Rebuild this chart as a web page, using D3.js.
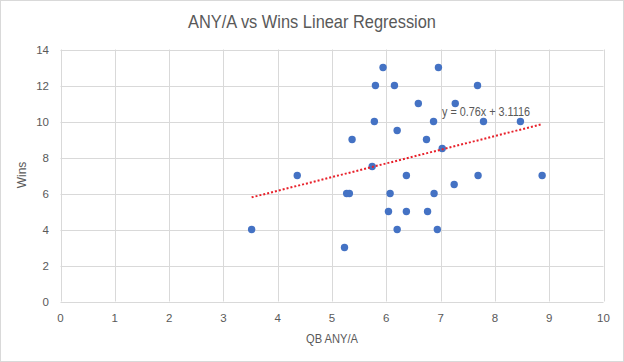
<!DOCTYPE html>
<html>
<head>
<meta charset="utf-8">
<script src="https://cdn.jsdelivr.net/npm/d3@7"></script>
<style>
  body { margin: 0; background: #fff; }
  svg text { font-family: "Liberation Sans", Arial, sans-serif; fill: #595959; }
</style>
</head>
<body>
<svg id="chart"></svg>
<script>
// QB ANY/A (x) and team wins (y)
const anya = [3.52, 4.36, 5.23, 5.27, 5.32, 5.37, 5.74, 5.78, 5.80, 5.94, 6.04, 6.07, 6.15, 6.20, 6.20, 6.37,
  6.37, 6.59, 6.74, 6.76, 6.87, 6.88, 6.94, 6.96, 7.03, 7.25, 7.27, 7.68, 7.69, 7.79, 8.47, 8.87];
const wins = [4, 7, 3, 6, 6, 9, 7.5, 10, 12, 13, 5, 6, 12, 9.5, 4, 7,
  5, 11, 9, 5, 10, 6, 4, 13, 8.5, 6.5, 11, 12, 7, 10, 10, 7];
const xTicks = [0, 1, 2, 3, 4, 5, 6, 7, 8, 9, 10];
const yTicks = [0, 2, 4, 6, 8, 10, 12, 14];
const slope = 0.76;
const intercept = 3.1116;

const width = 624, height = 362;
const svg = d3.select("#chart").attr("width", width).attr("height", height);

svg.append("rect")
  .attr("x", 0.5).attr("y", 0.5)
  .attr("width", width - 1).attr("height", height - 1)
  .attr("fill", "#fff").attr("stroke", "#d9d9d9");

const x = d3.scaleLinear().domain([0, 10]).range([60.5, 603.5]);
const y = d3.scaleLinear().domain([0, 14]).range([301.5, 49.5]);

// gridlines
svg.append("g").selectAll("line").data(yTicks).enter().append("line")
  .attr("x1", x(0)).attr("x2", x(10))
  .attr("y1", d => Math.round(y(d)) + 0.5).attr("y2", d => Math.round(y(d)) + 0.5)
  .attr("stroke", "#d9d9d9");
svg.append("g").selectAll("line").data(xTicks).enter().append("line")
  .attr("x1", d => Math.round(x(d)) + 0.5).attr("x2", d => Math.round(x(d)) + 0.5)
  .attr("y1", y(0)).attr("y2", y(14))
  .attr("stroke", "#d9d9d9");

// tick labels
svg.append("g").selectAll("text").data(xTicks).enter().append("text")
  .attr("x", d => x(d)).attr("y", 322)
  .attr("text-anchor", "middle").attr("font-size", 11.5)
  .text(d => d);
svg.append("g").selectAll("text").data(yTicks).enter().append("text")
  .attr("x", 49).attr("y", d => y(d) + 4)
  .attr("text-anchor", "end").attr("font-size", 11.5)
  .text(d => d);

// titles
svg.append("text").attr("x", 312).attr("y", 28)
  .attr("text-anchor", "middle").attr("font-size", 19)
  .attr("textLength", 248).attr("lengthAdjust", "spacingAndGlyphs")
  .text("ANY/A vs Wins Linear Regression");
svg.append("text").attr("x", 332).attr("y", 343)
  .attr("text-anchor", "middle").attr("font-size", 12)
  .attr("textLength", 52).attr("lengthAdjust", "spacingAndGlyphs")
  .text("QB ANY/A");
svg.append("text")
  .attr("transform", "translate(26,175) rotate(-90)")
  .attr("text-anchor", "middle").attr("font-size", 12)
  .text("Wins");

// points
const pts = anya.map((a, i) => ({ a, w: wins[i] }));
svg.append("g").selectAll("circle").data(pts).enter().append("circle")
  .attr("cx", d => x(d.a)).attr("cy", d => y(d.w))
  .attr("r", 3.7).attr("fill", "#4472c4");

// linear trendline
const xMin = d3.min(anya), xMax = d3.max(anya);
svg.append("line")
  .attr("x1", x(xMin)).attr("y1", y(slope * xMin + intercept))
  .attr("x2", x(xMax)).attr("y2", y(slope * xMax + intercept))
  .attr("stroke", "#e8202a").attr("stroke-width", 2)
  .attr("stroke-dasharray", "2,2");

svg.append("text").attr("x", 442).attr("y", 116)
  .attr("font-size", 12)
  .attr("textLength", 88).attr("lengthAdjust", "spacingAndGlyphs")
  .text(`y = ${slope}x + ${intercept}`);
</script>
</body>
</html>
